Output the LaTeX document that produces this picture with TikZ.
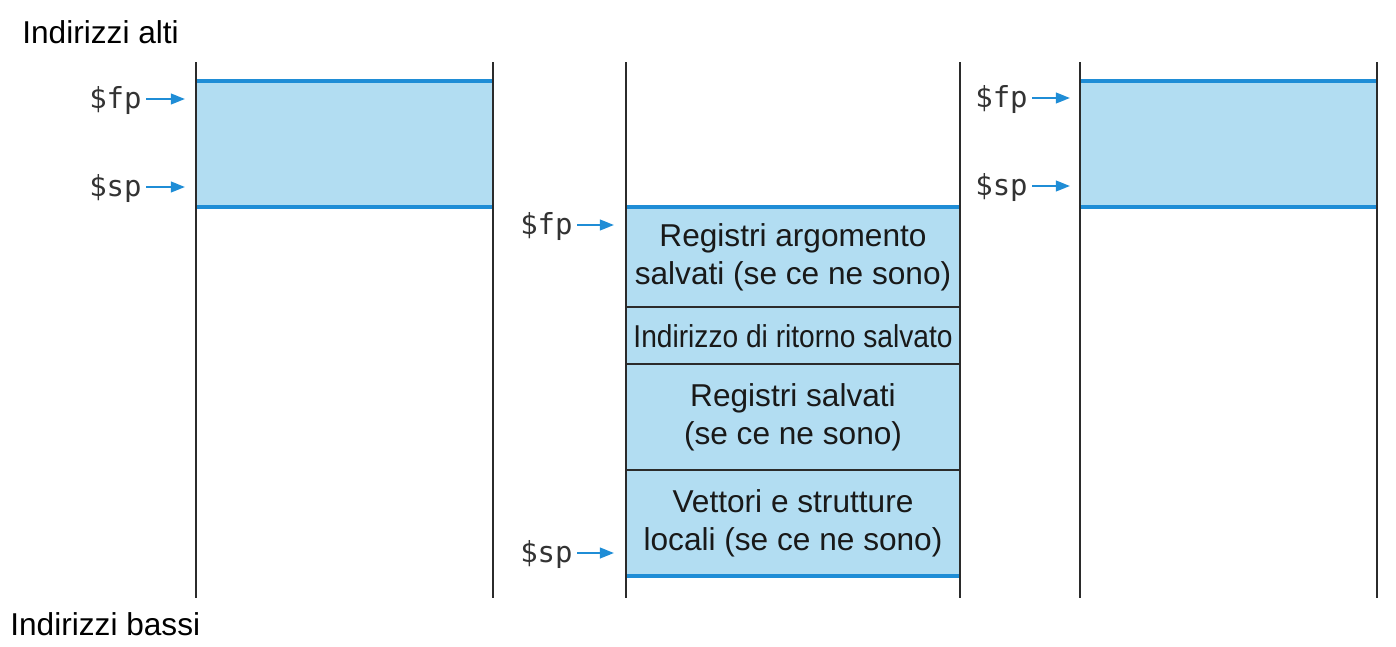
\documentclass[tikz,border=0pt]{standalone}
\usepackage{fontspec}
\setmainfont{Liberation Sans}
\newfontfamily\monof{DejaVu Sans Mono}
\usetikzlibrary{arrows.meta}
\definecolor{boxfill}{HTML}{B2DDF2}
\definecolor{edgeblue}{HTML}{1F8DD6}
\definecolor{linegray}{HTML}{2B2B2B}
\tikzset{
  wall/.style={draw=linegray, line width=1.1pt},
  divider/.style={draw=linegray, line width=1.1pt},
  blueedge/.style={draw=edgeblue, line width=1.9pt},
  reglabel/.style={font=\monof\fontsize{16.5}{18}\selectfont, text=black!80, inner sep=0pt, text height=15pt, text depth=4pt, anchor=east},
  ptr/.style={draw=edgeblue, line width=1.3pt, -{Triangle[length=8pt,width=6pt]}},
  celltext/.style={font=\fontsize{18}{21.5}\selectfont, align=center, text=black!90, inner sep=0pt},
  caption/.style={font=\fontsize{18}{21}\selectfont, anchor=base west, inner sep=0pt, text=black}
}
\begin{document}
\begin{tikzpicture}[x=0.02cm,y=-0.02cm]
\useasboundingbox (0,0) rectangle (1396,646);

% captions
\node[caption] (hi) at (22,43) {Indirizzi alti};
\node[caption] (lo) at (10,635) {Indirizzi bassi};

% ---------- left column ----------
\fill[boxfill] (196,81) rectangle (493,207);
\draw[blueedge] (196,81) -- (493,81);
\draw[blueedge] (196,207) -- (493,207);
\draw[wall] (196,62) -- (196,598);
\draw[wall] (493,62) -- (493,598);

\node[reglabel] (fpL) at (142,99) {\$fp};
\node[reglabel] (spL) at (142,187) {\$sp};
\coordinate (fpLend) at (185,99);
\coordinate (spLend) at (185,187);
\draw[ptr] ([xshift=2.5pt]fpL.east) -- (fpLend);
\draw[ptr] ([xshift=2.5pt]spL.east) -- (spLend);

% ---------- middle column ----------
\fill[boxfill] (626,207) rectangle (960,576);
\draw[divider] (626,307) -- (960,307);
\draw[divider] (626,364) -- (960,364);
\draw[divider] (626,470) -- (960,470);
\draw[blueedge] (626,207) -- (960,207);
\draw[blueedge] (626,576) -- (960,576);
\draw[wall] (626,62) -- (626,598);
\draw[wall] (960,62) -- (960,598);

\node[celltext] (c1) at (793,257) {Registri argomento\\salvati (se ce ne sono)};
\node[celltext] (c2) at (793,336) {\scalebox{0.89}[1]{Indirizzo di ritorno salvato}};
\node[celltext] (c3) at (793,417) {Registri salvati\\(se ce ne sono)};
\node[celltext] (c4) at (793,523) {Vettori e strutture\\locali (se ce ne sono)};

\node[reglabel] (fpM) at (573,225) {\$fp};
\node[reglabel] (spM) at (573,553) {\$sp};
\coordinate (fpMend) at (614,225);
\coordinate (spMend) at (614,553);
\draw[ptr] ([xshift=2.5pt]fpM.east) -- (fpMend);
\draw[ptr] ([xshift=2.5pt]spM.east) -- (spMend);

% ---------- right column ----------
\fill[boxfill] (1080,81) rectangle (1377,207);
\draw[blueedge] (1080,81) -- (1377,81);
\draw[blueedge] (1080,207) -- (1377,207);
\draw[wall] (1080,62) -- (1080,598);
\draw[wall] (1377,62) -- (1377,598);

\node[reglabel] (fpR) at (1028,98) {\$fp};
\node[reglabel] (spR) at (1028,186) {\$sp};
\coordinate (fpRend) at (1070,98);
\coordinate (spRend) at (1070,186);
\draw[ptr] ([xshift=2.5pt]fpR.east) -- (fpRend);
\draw[ptr] ([xshift=2.5pt]spR.east) -- (spRend);
\end{tikzpicture}
\end{document}
